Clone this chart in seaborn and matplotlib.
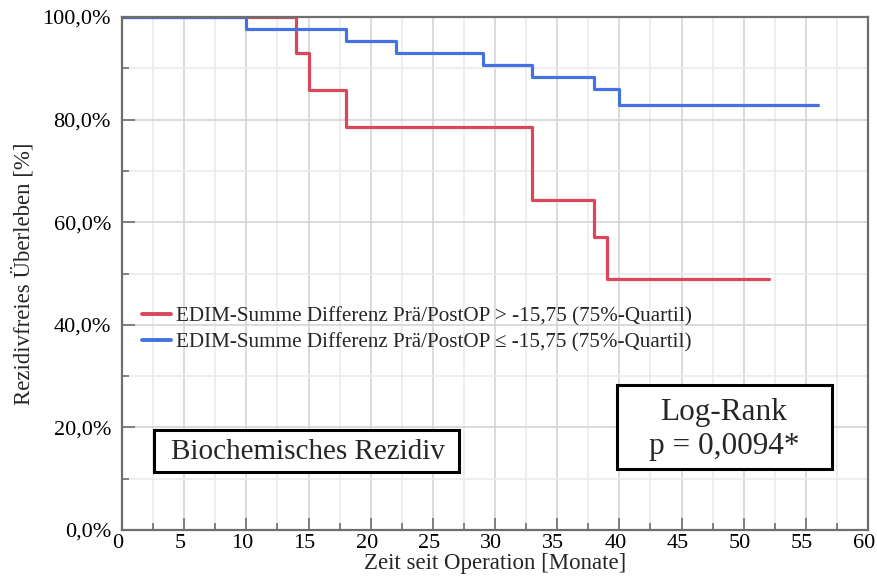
import matplotlib
matplotlib.use("Agg")
import matplotlib.pyplot as plt
from matplotlib.patches import Rectangle
from matplotlib.transforms import ScaledTranslation
from matplotlib.ticker import MultipleLocator, FuncFormatter
import pandas as pd
import seaborn as sns

# ── Kaplan-Meier steps ───────────────────────────────────────────────
red_label = "EDIM-Summe Differenz Prä/PostOP > -15,75 (75%-Quartil)"
blue_label = "EDIM-Summe Differenz Prä/PostOP ≤ -15,75 (75%-Quartil)"
red_time = [0, 14, 15, 18, 33, 38, 39, 52]
red_surv = [100.0, 92.9, 85.7, 78.6, 64.3, 57.1, 49.0, 49.0]
blue_time = [0, 10, 18, 22, 29, 33, 38, 40, 56]
blue_surv = [100.0, 97.7, 95.3, 93.0, 90.7, 88.4, 86.0, 82.9, 82.9]

COLORS = {red_label: "#d9485a", blue_label: "#4472e0"}

df = pd.concat([
    pd.DataFrame({"t": red_time, "s": red_surv, "grp": red_label}),
    pd.DataFrame({"t": blue_time, "s": blue_surv, "grp": blue_label}),
], ignore_index=True)

sns.set_theme(style="white")
plt.rcParams["font.family"] = ["Liberation Serif", "DejaVu Serif"]

fig = plt.figure(figsize=(8.77, 5.85), dpi=100)
ax = fig.add_axes([122 / 877, 55 / 585, 746 / 877, 513 / 585])

sns.lineplot(data=df, x="t", y="s", hue="grp", palette=COLORS,
             estimator=None, sort=False, drawstyle="steps-post",
             linewidth=2.3, ax=ax)

ax.set_xlim(0, 60)
ax.set_ylim(0, 100)
ax.xaxis.set_major_locator(MultipleLocator(5))
ax.xaxis.set_minor_locator(MultipleLocator(2.5))
ax.yaxis.set_major_locator(MultipleLocator(20))
ax.yaxis.set_minor_locator(MultipleLocator(10))
ax.yaxis.set_major_formatter(FuncFormatter(lambda v, _: f"{v:.1f}%".replace(".", ",")))

ax.grid(which="major", color="#d4d4d4", linewidth=1.2)
ax.grid(which="minor", color="#ebebeb", linewidth=1.2)
ax.set_axisbelow(True)
for sp in ax.spines.values():
    sp.set_color("#6e6e6e")
    sp.set_linewidth(1.6)
ax.tick_params(which="major", direction="in", length=9, width=1.2, color="#6e6e6e",
               labelsize=16, labelcolor="black")
ax.tick_params(axis="y", which="major", pad=8)
ax.tick_params(axis="x", which="major", pad=3)
ax.tick_params(which="minor", direction="in", length=5, width=1.2, color="#6e6e6e")
ax.tick_params(axis="both", which="both", bottom=True, left=True, top=False, right=False)

# x tick labels sit a few pixels left of their ticks in the reference
shift = ScaledTranslation(-4 / 100, 0, fig.dpi_scale_trans)
for lbl in ax.get_xticklabels():
    lbl.set_transform(lbl.get_transform() + shift)

ax.set_xlabel("Zeit seit Operation [Monate]", fontsize=16.5, labelpad=0)
ax.set_ylabel("Rezidivfreies Überleben [%]", fontsize=16.5, labelpad=6)

leg = ax.legend(loc="upper left", bbox_to_anchor=(0.027, 0.435), frameon=False,
                fontsize=15.2, handlelength=1.35, handletextpad=0.25,
                labelspacing=0.3, borderaxespad=0, borderpad=0)
for line in leg.get_lines():
    line.set_linewidth(2.8)

# annotation boxes (axes fractions)
ax.add_patch(Rectangle((0.043, 0.113), 0.409, 0.082, transform=ax.transAxes,
                       facecolor="white", edgecolor="black", linewidth=2.2, zorder=5))
ax.text(0.249, 0.152, "Biochemisches Rezidiv", transform=ax.transAxes,
        ha="center", va="center", fontsize=21, zorder=6)
ax.add_patch(Rectangle((0.6635, 0.119), 0.288, 0.164, transform=ax.transAxes,
                       facecolor="white", edgecolor="black", linewidth=2.2, zorder=5))
ax.text(0.807, 0.196, "Log-Rank\np = 0,0094*", transform=ax.transAxes,
        ha="center", va="center", fontsize=22.5, linespacing=1.25, zorder=6)

fig.savefig("out.png", dpi=100)
